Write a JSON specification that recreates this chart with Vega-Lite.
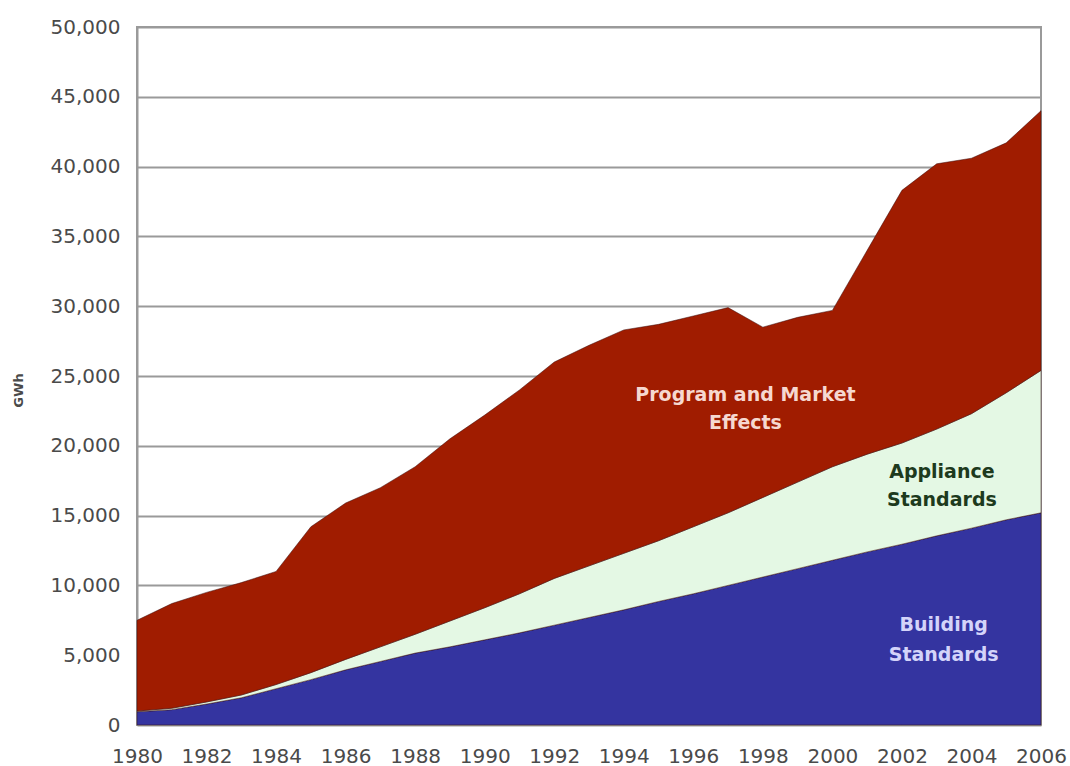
{
  "$schema": "https://vega.github.io/schema/vega-lite/v6.json",
  "width": 904,
  "height": 698,
  "autosize": {"type": "none"},
  "padding": {"left": 137, "top": 27, "right": 29, "bottom": 41},
  "background": "white",
  "config": {
    "font": "DejaVu Sans",
    "view": {"stroke": "#9a9a9a", "strokeWidth": 2},
    "axis": {"labelFont": "DejaVu Sans", "labelFontSize": 20, "labelColor": "#4a4a4a", "titleFont": "DejaVu Sans"}
  },
  "datasets": {
    "series": [
      {"year": 1980, "series": "Building Standards", "tier": 1, "gwh": 950},
      {"year": 1981, "series": "Building Standards", "tier": 1, "gwh": 1100},
      {"year": 1982, "series": "Building Standards", "tier": 1, "gwh": 1500},
      {"year": 1983, "series": "Building Standards", "tier": 1, "gwh": 1950},
      {"year": 1984, "series": "Building Standards", "tier": 1, "gwh": 2600},
      {"year": 1985, "series": "Building Standards", "tier": 1, "gwh": 3250},
      {"year": 1986, "series": "Building Standards", "tier": 1, "gwh": 3950},
      {"year": 1987, "series": "Building Standards", "tier": 1, "gwh": 4550},
      {"year": 1988, "series": "Building Standards", "tier": 1, "gwh": 5150},
      {"year": 1989, "series": "Building Standards", "tier": 1, "gwh": 5600},
      {"year": 1990, "series": "Building Standards", "tier": 1, "gwh": 6100},
      {"year": 1991, "series": "Building Standards", "tier": 1, "gwh": 6600},
      {"year": 1992, "series": "Building Standards", "tier": 1, "gwh": 7150},
      {"year": 1993, "series": "Building Standards", "tier": 1, "gwh": 7700},
      {"year": 1994, "series": "Building Standards", "tier": 1, "gwh": 8250},
      {"year": 1995, "series": "Building Standards", "tier": 1, "gwh": 8850},
      {"year": 1996, "series": "Building Standards", "tier": 1, "gwh": 9400},
      {"year": 1997, "series": "Building Standards", "tier": 1, "gwh": 10000},
      {"year": 1998, "series": "Building Standards", "tier": 1, "gwh": 10600},
      {"year": 1999, "series": "Building Standards", "tier": 1, "gwh": 11200},
      {"year": 2000, "series": "Building Standards", "tier": 1, "gwh": 11800},
      {"year": 2001, "series": "Building Standards", "tier": 1, "gwh": 12400},
      {"year": 2002, "series": "Building Standards", "tier": 1, "gwh": 12950},
      {"year": 2003, "series": "Building Standards", "tier": 1, "gwh": 13550},
      {"year": 2004, "series": "Building Standards", "tier": 1, "gwh": 14100},
      {"year": 2005, "series": "Building Standards", "tier": 1, "gwh": 14700},
      {"year": 2006, "series": "Building Standards", "tier": 1, "gwh": 15200},
      {"year": 1980, "series": "Appliance Standards", "tier": 2, "gwh": 50},
      {"year": 1981, "series": "Appliance Standards", "tier": 2, "gwh": 100},
      {"year": 1982, "series": "Appliance Standards", "tier": 2, "gwh": 150},
      {"year": 1983, "series": "Appliance Standards", "tier": 2, "gwh": 200},
      {"year": 1984, "series": "Appliance Standards", "tier": 2, "gwh": 300},
      {"year": 1985, "series": "Appliance Standards", "tier": 2, "gwh": 500},
      {"year": 1986, "series": "Appliance Standards", "tier": 2, "gwh": 750},
      {"year": 1987, "series": "Appliance Standards", "tier": 2, "gwh": 1050},
      {"year": 1988, "series": "Appliance Standards", "tier": 2, "gwh": 1350},
      {"year": 1989, "series": "Appliance Standards", "tier": 2, "gwh": 1850},
      {"year": 1990, "series": "Appliance Standards", "tier": 2, "gwh": 2300},
      {"year": 1991, "series": "Appliance Standards", "tier": 2, "gwh": 2800},
      {"year": 1992, "series": "Appliance Standards", "tier": 2, "gwh": 3350},
      {"year": 1993, "series": "Appliance Standards", "tier": 2, "gwh": 3700},
      {"year": 1994, "series": "Appliance Standards", "tier": 2, "gwh": 4050},
      {"year": 1995, "series": "Appliance Standards", "tier": 2, "gwh": 4350},
      {"year": 1996, "series": "Appliance Standards", "tier": 2, "gwh": 4800},
      {"year": 1997, "series": "Appliance Standards", "tier": 2, "gwh": 5200},
      {"year": 1998, "series": "Appliance Standards", "tier": 2, "gwh": 5700},
      {"year": 1999, "series": "Appliance Standards", "tier": 2, "gwh": 6200},
      {"year": 2000, "series": "Appliance Standards", "tier": 2, "gwh": 6700},
      {"year": 2001, "series": "Appliance Standards", "tier": 2, "gwh": 7000},
      {"year": 2002, "series": "Appliance Standards", "tier": 2, "gwh": 7250},
      {"year": 2003, "series": "Appliance Standards", "tier": 2, "gwh": 7650},
      {"year": 2004, "series": "Appliance Standards", "tier": 2, "gwh": 8200},
      {"year": 2005, "series": "Appliance Standards", "tier": 2, "gwh": 9100},
      {"year": 2006, "series": "Appliance Standards", "tier": 2, "gwh": 10200},
      {"year": 1980, "series": "Program and Market Effects", "tier": 3, "gwh": 6500},
      {"year": 1981, "series": "Program and Market Effects", "tier": 3, "gwh": 7500},
      {"year": 1982, "series": "Program and Market Effects", "tier": 3, "gwh": 7850},
      {"year": 1983, "series": "Program and Market Effects", "tier": 3, "gwh": 8050},
      {"year": 1984, "series": "Program and Market Effects", "tier": 3, "gwh": 8100},
      {"year": 1985, "series": "Program and Market Effects", "tier": 3, "gwh": 10450},
      {"year": 1986, "series": "Program and Market Effects", "tier": 3, "gwh": 11200},
      {"year": 1987, "series": "Program and Market Effects", "tier": 3, "gwh": 11400},
      {"year": 1988, "series": "Program and Market Effects", "tier": 3, "gwh": 12000},
      {"year": 1989, "series": "Program and Market Effects", "tier": 3, "gwh": 13050},
      {"year": 1990, "series": "Program and Market Effects", "tier": 3, "gwh": 13800},
      {"year": 1991, "series": "Program and Market Effects", "tier": 3, "gwh": 14600},
      {"year": 1992, "series": "Program and Market Effects", "tier": 3, "gwh": 15500},
      {"year": 1993, "series": "Program and Market Effects", "tier": 3, "gwh": 15800},
      {"year": 1994, "series": "Program and Market Effects", "tier": 3, "gwh": 16000},
      {"year": 1995, "series": "Program and Market Effects", "tier": 3, "gwh": 15500},
      {"year": 1996, "series": "Program and Market Effects", "tier": 3, "gwh": 15100},
      {"year": 1997, "series": "Program and Market Effects", "tier": 3, "gwh": 14700},
      {"year": 1998, "series": "Program and Market Effects", "tier": 3, "gwh": 12200},
      {"year": 1999, "series": "Program and Market Effects", "tier": 3, "gwh": 11800},
      {"year": 2000, "series": "Program and Market Effects", "tier": 3, "gwh": 11200},
      {"year": 2001, "series": "Program and Market Effects", "tier": 3, "gwh": 14600},
      {"year": 2002, "series": "Program and Market Effects", "tier": 3, "gwh": 18100},
      {"year": 2003, "series": "Program and Market Effects", "tier": 3, "gwh": 19000},
      {"year": 2004, "series": "Program and Market Effects", "tier": 3, "gwh": 18300},
      {"year": 2005, "series": "Program and Market Effects", "tier": 3, "gwh": 17900},
      {"year": 2006, "series": "Program and Market Effects", "tier": 3, "gwh": 18600}
    ],
    "labels": [
      {"group": "program", "year": 1997.5, "gwh": 23640, "text": "Program and Market"},
      {"group": "program", "year": 1997.5, "gwh": 21630, "text": "Effects"},
      {"group": "appliance", "year": 2003.15, "gwh": 18120, "text": "Appliance"},
      {"group": "appliance", "year": 2003.15, "gwh": 16120, "text": "Standards"},
      {"group": "building", "year": 2003.2, "gwh": 7160, "text": "Building"},
      {"group": "building", "year": 2003.2, "gwh": 5010, "text": "Standards"}
    ]
  },
  "layer": [
    {
      "data": {"name": "series"},
      "mark": {"type": "area", "stroke": "#3a0c0c", "strokeWidth": 1, "strokeOpacity": 0.5},
      "encoding": {
        "x": {
          "field": "year", "type": "quantitative",
          "scale": {"domain": [1980, 2006], "nice": false, "zero": false},
          "axis": {"values": [1980, 1982, 1984, 1986, 1988, 1990, 1992, 1994, 1996, 1998, 2000, 2002, 2004, 2006], "format": "d", "title": null, "grid": false, "domain": false, "ticks": false, "labelPadding": 21, "labelFlush": false, "labelOverlap": false}
        },
        "y": {
          "field": "gwh", "type": "quantitative", "stack": "zero",
          "scale": {"domain": [0, 50000], "nice": false},
          "axis": {"values": [0, 5000, 10000, 15000, 20000, 25000, 30000, 35000, 40000, 45000, 50000], "format": ",d", "title": "GWh", "titleFontSize": 13, "titleFontWeight": "bold", "titleColor": "#4a4a4a", "titleX": -119, "titleY": 363, "titleAlign": "center", "titleBaseline": "middle", "grid": true, "gridColor": "#9a9a9a", "gridWidth": 2, "domainColor": "#9a9a9a", "domainWidth": 2, "ticks": false, "labelPadding": 17}
        },
        "color": {
          "field": "series", "type": "nominal",
          "scale": {"domain": ["Building Standards", "Appliance Standards", "Program and Market Effects"], "range": ["#3434a0", "#e4f8e4", "#a01c00"]},
          "legend": null
        },
        "order": {"field": "tier", "type": "quantitative", "sort": "ascending"}
      }
    },
    {
      "data": {"name": "labels"},
      "transform": [{"filter": "datum.group === 'program'"}],
      "mark": {"type": "text", "font": "DejaVu Sans", "fontSize": 19, "fontWeight": "bold", "color": "#f6d8d0", "align": "center", "baseline": "middle"},
      "encoding": {
        "x": {"field": "year", "type": "quantitative"},
        "y": {"field": "gwh", "type": "quantitative"},
        "text": {"field": "text"}
      }
    },
    {
      "data": {"name": "labels"},
      "transform": [{"filter": "datum.group === 'appliance'"}],
      "mark": {"type": "text", "font": "DejaVu Sans", "fontSize": 19, "fontWeight": "bold", "color": "#1d3a1d", "align": "center", "baseline": "middle"},
      "encoding": {
        "x": {"field": "year", "type": "quantitative"},
        "y": {"field": "gwh", "type": "quantitative"},
        "text": {"field": "text"}
      }
    },
    {
      "data": {"name": "labels"},
      "transform": [{"filter": "datum.group === 'building'"}],
      "mark": {"type": "text", "font": "DejaVu Sans", "fontSize": 19, "fontWeight": "bold", "color": "#d4d4fa", "align": "center", "baseline": "middle"},
      "encoding": {
        "x": {"field": "year", "type": "quantitative"},
        "y": {"field": "gwh", "type": "quantitative"},
        "text": {"field": "text"}
      }
    }
  ]
}
